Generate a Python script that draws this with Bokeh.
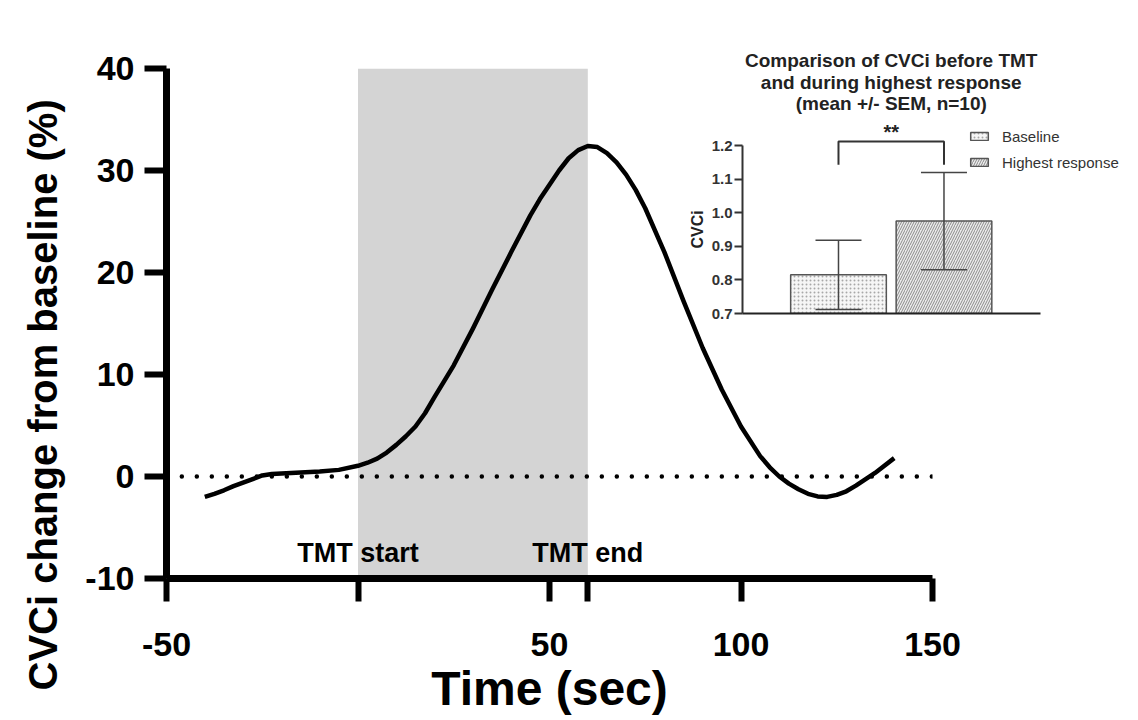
import numpy as np
from bokeh.plotting import figure
from bokeh.models import (Range1d, FixedTicker, Label, Legend, LegendItem, Whisker,
                          ColumnDataSource, TeeHead, Title, PrintfTickFormatter)
from bokeh.layouts import column, row
from bokeh.embed import file_html
from bokeh.resources import INLINE
from bokeh.core.properties import value

FONT = "Liberation Sans"

# ---------------- main chart data ----------------
time_sec = [-40, -37.5, -35, -32.5, -30, -27.5, -25, -22.5, -20, -15, -10, -5, 0, 2.5,
            5, 7.5, 10, 12.5, 15, 17.5, 20, 25, 30, 35, 40, 45, 47.5, 50, 52.5, 55,
            57.5, 60, 62.5, 65, 67.5, 70, 72.5, 75, 80, 85, 90, 95, 100, 105, 107.5,
            110, 112.5, 115, 117.5, 120, 122.5, 125, 127.5, 130, 135, 140]
cvci_change = [-2.0, -1.7, -1.35, -0.95, -0.6, -0.25, 0.1, 0.25, 0.3, 0.4, 0.5, 0.65,
               1.05, 1.35, 1.75, 2.35, 3.1, 3.95, 4.9, 6.2, 7.8, 10.9, 14.5, 18.3,
               22.0, 25.6, 27.2, 28.6, 30.0, 31.2, 32.0, 32.4, 32.3, 31.7, 30.8, 29.6,
               28.1, 26.3, 22.0, 17.2, 12.6, 8.5, 4.9, 2.0, 0.9, 0.0, -0.7, -1.25,
               -1.7, -1.95, -2.0, -1.8, -1.45, -0.9, 0.35, 1.8]
zero_line_x = [-46, 150]
zero_line_y = [0, 0]
tmt_start = 0
tmt_end = 60
tmt_labels = ["TMT start", "TMT end"]
tmt_label_y = -7.5
x_ticks = [-50, 0, 50, 60, 100, 150]
x_tick_text = {-50: "-50", 0: "", 50: "50", 60: "", 100: "100", 150: "150"}
y_ticks = [-10, 0, 10, 20, 30, 40]
y_tick_text = {-10: "-10"}
x_title = "Time (sec)"
y_title = "CVCi change from baseline (%)"

# ---------------- inset data ----------------
inset_title = ["Comparison of CVCi before TMT", "and during highest response",
               "(mean +/- SEM, n=10)"]
inset_title_y = [1.453, 1.3875, 1.325]
groups = ["Baseline", "Highest response"]
group_pos = [1, 2]
cvci_mean = [0.815, 0.975]
cvci_sem = [0.103, 0.145]
inset_ticks = [0.7, 0.8, 0.9, 1.0, 1.1, 1.2]
inset_x_extent = (0.09, 2.915)
inset_y_title = "CVCi"
sig_text = "**"
bracket_top = 1.212
bracket_leg_bottom = 1.143

# ---------------- main figure ----------------
p = figure(width=1138, height=720, x_range=Range1d(-50, 150), y_range=Range1d(-10, 40),
           output_backend="svg", toolbar_location=None, title_location=None,
           min_border_left=165, min_border_right=206, min_border_top=68,
           min_border_bottom=142)
p.outline_line_color = None
p.xgrid.visible = False
p.ygrid.visible = False
p.background_fill_color = "white"

p.quad(left=[tmt_start], right=[tmt_end], bottom=[y_ticks[0]], top=[y_ticks[-1]],
       fill_color="#d4d4d4", line_color=None)
p.line(zero_line_x, zero_line_y, line_width=4.5, line_color="black",
       line_dash="0 15", line_cap="round")
p.line(time_sec, cvci_change, line_width=4.5, line_color="black", line_join="round")
p.text(x=[tmt_start, tmt_end], y=[tmt_label_y, tmt_label_y], text=tmt_labels,
       text_font=value(FONT), text_font_style="bold", text_font_size="27px",
       text_align="center", text_baseline="middle", text_color="black")

xa = p.xaxis[0]
xa.ticker = FixedTicker(ticks=x_ticks)
xa.major_label_overrides = x_tick_text
xa.axis_line_width = 7
xa.major_tick_line_width = 6
xa.major_tick_out = 23
xa.major_tick_in = 0
xa.minor_tick_out = 0
xa.minor_tick_in = 0
xa.major_label_text_font = FONT
xa.major_label_text_font_style = "bold"
xa.major_label_text_font_size = "34px"
xa.major_label_text_color = "black"
xa.major_label_standoff = 31
xa.axis_label = x_title
xa.axis_label_text_font = FONT
xa.axis_label_text_font_style = "bold"
xa.axis_label_text_font_size = "48px"
xa.axis_label_text_color = "black"
xa.axis_label_standoff = 3

ya = p.yaxis[0]
ya.ticker = FixedTicker(ticks=y_ticks)
ya.major_label_overrides = y_tick_text
ya.axis_line_width = 7
ya.major_tick_line_width = 6
ya.major_tick_out = 22
ya.major_tick_in = 0
ya.minor_tick_out = 0
ya.minor_tick_in = 0
ya.major_label_text_font = FONT
ya.major_label_text_font_style = "bold"
ya.major_label_text_font_size = "34px"
ya.major_label_text_color = "black"
ya.major_label_standoff = 10

p.add_layout(Title(text=y_title, align="left", offset=-112, standoff=36,
                   text_font=FONT, text_font_style="bold", text_font_size="40px",
                   text_color="black"), "left")

# ---------------- inset figure ----------------
ins = figure(width=478, height=300, x_range=Range1d(inset_x_extent[0], 3.844),
             y_range=Range1d(0.7, 1.5423), output_backend="svg", toolbar_location=None,
             title_location=None,
             min_border_left=82, min_border_right=0, min_border_top=0,
             min_border_bottom=17)
ins.background_fill_alpha = 0
ins.border_fill_alpha = 0
ins.outline_line_color = None
ins.xgrid.visible = False
ins.ygrid.visible = False

for line, ty in zip(inset_title, inset_title_y):
    ins.add_layout(Label(x=sum(group_pos) / 2, y=ty, text=line, text_align="center",
                         text_baseline="middle", text_font=FONT,
                         text_font_style="bold", text_font_size="19px",
                         text_color="#222222"))

r1 = ins.vbar(x=[group_pos[0]], top=[cvci_mean[0]], bottom=inset_ticks[0], width=0.907,
              fill_color="#f6f6f6", hatch_pattern="dot", hatch_color="#a8a8a8",
              hatch_scale=4, hatch_weight=1, line_color="#555555", line_width=1.5)
r2 = ins.vbar(x=[group_pos[1]], top=[cvci_mean[1]], bottom=inset_ticks[0], width=0.907,
              fill_color="#ececec", hatch_pattern="/", hatch_color="#8a8a8a",
              hatch_scale=5, hatch_weight=1, line_color="#555555", line_width=1.5)

err_src = ColumnDataSource(data=dict(
    x=group_pos,
    upper=[m + s for m, s in zip(cvci_mean, cvci_sem)],
    lower=[m - s for m, s in zip(cvci_mean, cvci_sem)],
))
ins.add_layout(Whisker(base="x", upper="upper", lower="lower", source=err_src,
                       level="annotation",
                       line_color="#444444", line_width=1.5,
                       upper_head=TeeHead(size=46, line_color="#444444", line_width=1.5),
                       lower_head=TeeHead(size=46, line_color="#444444", line_width=1.5)))

ins.line(x=[group_pos[0], group_pos[0], group_pos[1], group_pos[1]],
         y=[bracket_leg_bottom, bracket_top, bracket_top, bracket_leg_bottom],
         line_color="#333333", line_width=2)
ins.add_layout(Label(x=sum(group_pos) / 2, y=bracket_top + 0.028, text=sig_text,
                     text_align="center", text_baseline="alphabetic",
                     text_font=FONT, text_font_style="bold", text_font_size="20px",
                     text_color="#222222"))

legend = Legend(items=[LegendItem(label=groups[0], renderers=[r1]),
                       LegendItem(label=groups[1], renderers=[r2])],
                location=(226, 142), glyph_width=22, glyph_height=10,
                label_standoff=12, label_text_font=FONT, label_text_font_size="15px",
                label_text_color="#333333", label_height=18, spacing=8,
                padding=0, margin=0, background_fill_alpha=0, border_line_color=None)
ins.add_layout(legend)

iy = ins.yaxis[0]
iy.ticker = FixedTicker(ticks=inset_ticks)
iy.formatter = PrintfTickFormatter(format="%.1f")
iy.bounds = (inset_ticks[0], inset_ticks[-1])
iy.axis_line_width = 2
iy.axis_line_color = "#333333"
iy.major_tick_line_width = 2
iy.major_tick_line_color = "#333333"
iy.major_tick_out = 8
iy.major_tick_in = 0
iy.minor_tick_out = 0
iy.minor_tick_in = 0
iy.major_label_text_font = FONT
iy.major_label_text_font_style = "bold"
iy.major_label_text_font_size = "15px"
iy.major_label_text_color = "#333333"
iy.major_label_standoff = 2

ins.add_layout(Title(text=inset_y_title, align="left", offset=65, standoff=6,
                     text_font=FONT, text_font_style="bold", text_font_size="16px",
                     text_color="#222222"), "left")

ix = ins.xaxis[0]
ix.ticker = FixedTicker(ticks=[])
ix.bounds = inset_x_extent
ix.axis_line_width = 2
ix.axis_line_color = "#222222"
ix.major_tick_out = 0
ix.major_tick_in = 0
ix.minor_tick_out = 0
ix.minor_tick_in = 0

inset_box = row(ins)
inset_box.margin = (-690, 0, 0, 660)
layout = column(p, inset_box)
open("out.html", "w").write(file_html(layout, INLINE, title="CVCi"))
